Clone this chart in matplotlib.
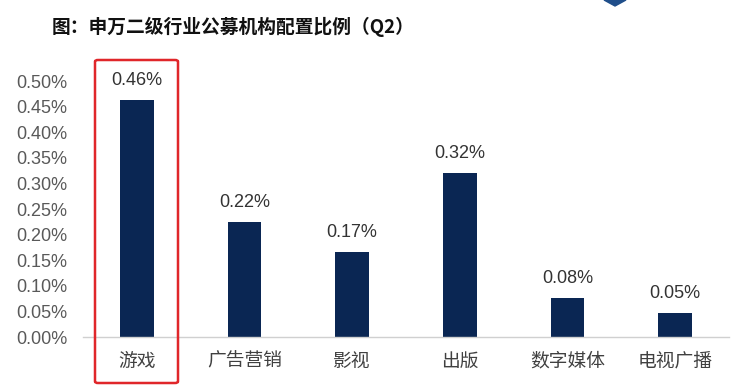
import matplotlib
matplotlib.use("Agg")
from matplotlib import pyplot as plt
from matplotlib.patches import FancyBboxPatch, Polygon
from matplotlib.ticker import FuncFormatter

plt.rcParams['font.family'] = ['Noto Sans CJK SC', 'DejaVu Sans']

# 申万二级行业公募机构配置比例 (%)
industries = ['游戏', '广告营销', '影视', '出版', '数字媒体', '电视广播']
ratios = [0.463, 0.224, 0.166, 0.321, 0.076, 0.046]
y_ticks = [0.00, 0.05, 0.10, 0.15, 0.20, 0.25, 0.30, 0.35, 0.40, 0.45, 0.50]

bar_color = '#0a2653'
num_font = 'Liberation Sans'

fig = plt.figure(figsize=(7.41, 3.90), dpi=100)
ax = fig.add_axes([83 / 741, 53 / 390, (729 - 83) / 741, 256 / 390])

x = range(len(industries))
bars = ax.bar(x, ratios, width=0.31, color=bar_color)

# value labels above bars
for xi, v in zip(x, ratios):
    ax.annotate(f'{v:.2f}%', (xi, v), xytext=(0, 8), textcoords='offset points',
                ha='center', va='bottom', fontsize=13, color='#333333',
                family=num_font, annotation_clip=False)

ax.set_xlim(-0.5, len(industries) - 0.5)
ax.set_ylim(0, 0.5)
ax.set_yticks(y_ticks)
ax.yaxis.set_major_formatter(FuncFormatter(lambda v, _: f'{v:.2f}%'))
ax.set_xticks(list(x))
ax.set_xticklabels(industries, fontsize=13.5, color='#404040')
ax.tick_params(axis='x', length=0, pad=10)
ax.tick_params(axis='y', length=0, pad=11, labelsize=13, labelcolor='#595959')
for lbl in ax.get_yticklabels():
    lbl.set_family(num_font)

for side in ['top', 'right', 'left']:
    ax.spines[side].set_visible(False)
ax.spines['bottom'].set_color('#d0d0d0')
ax.spines['bottom'].set_linewidth(1)

# title
fig.text(52 / 741, 1 - 27 / 390, '图：申万二级行业公募机构配置比例（Q2）',
         fontsize=13.5, fontweight='bold', color='#111111', va='center', ha='left')

# red highlight box around the first category
box = FancyBboxPatch((95 / 741, 1 - 383 / 390), 83 / 741, 323 / 390,
                     boxstyle='round,pad=0,rounding_size=0.004',
                     transform=fig.transFigure, fill=False,
                     edgecolor='#e0262a', linewidth=1.8)
fig.patches.append(box)

# small logo fragment at the top edge
logo = Polygon([(604 / 741, 1.0), (626 / 741, 1.0), (615 / 741, 1 - 6 / 390)],
               closed=True, transform=fig.transFigure, color='#1f4e8a')
fig.patches.append(logo)

fig.savefig('out.png', dpi=100)
